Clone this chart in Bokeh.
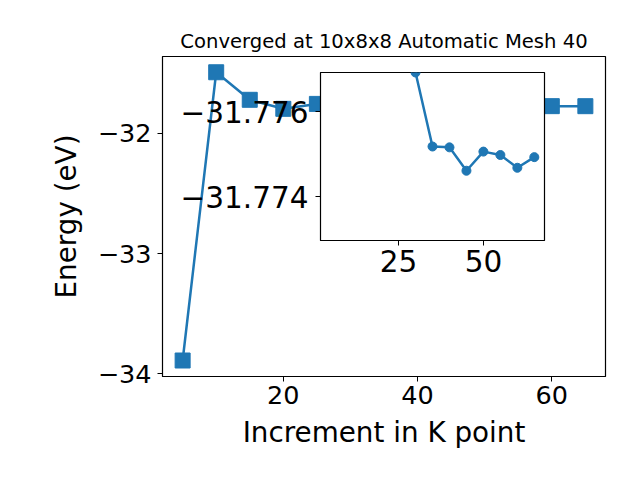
from bokeh.plotting import figure
from bokeh.models import Range1d, FixedTicker, CustomJSTickFormatter
from bokeh.layouts import column
from bokeh.embed import file_html
from bokeh.resources import INLINE

# ---- data ----
kpoints = [5, 10, 15, 20, 25, 30, 35, 40, 45, 50, 55, 60, 65]
energies = [-33.889, -31.493, -31.722, -31.797, -31.756, -31.77692, -31.77518,
            -31.77516, -31.77461, -31.77506, -31.77498, -31.77468, -31.77493]
inset_start = 5  # inset shows the converged tail, K = 30 ... 65
main_xticks = [20, 40, 60]
main_yticks = [-34, -33, -32]
inset_xticks = [25, 50]
inset_yticks = [-31.776, -31.774]
title_text = "Converged at 10x8x8 Automatic Mesh 40"
xlabel = "Increment in K point"
ylabel = "Energy (eV)"

BLUE = "#1f77b4"
FONT = "DejaVu Sans"

# ---- main figure ----
p_main = figure(width=640, height=480, output_backend="svg", toolbar_location=None,
                x_range=Range1d(2, 68), y_range=Range1d(-34.022, -31.362),
                min_border_left=162, min_border_right=35, min_border_top=56,
                min_border_bottom=104, title=title_text)
p_main.title.text_font = FONT
p_main.title.text_font_size = "19.6px"
p_main.title.text_font_style = "normal"
p_main.title.text_color = "black"
p_main.title.align = "center"
p_main.title.standoff = 8
p_main.grid.visible = False
p_main.outline_line_color = "black"
p_main.outline_line_width = 1.2
p_main.background_fill_color = "white"
p_main.border_fill_color = "white"

p_main.line(kpoints, energies, line_color=BLUE, line_width=2.5)
p_main.scatter(kpoints, energies, marker="square", size=15, fill_color=BLUE, line_color=BLUE)

p_main.xaxis.ticker = FixedTicker(ticks=main_xticks)
p_main.yaxis.ticker = FixedTicker(ticks=main_yticks)
fmt0 = "return (tick < 0 ? '\u2212' : '') + Math.abs(tick).toFixed(0);"
p_main.xaxis.formatter = CustomJSTickFormatter(code=fmt0)
p_main.yaxis.formatter = CustomJSTickFormatter(code=fmt0)
p_main.xaxis.axis_label = xlabel
p_main.yaxis.axis_label = ylabel
for ax in (p_main.xaxis, p_main.yaxis):
    ax.major_label_text_font = FONT
    ax.major_label_text_font_size = "25.5px"
    ax.major_label_text_color = "black"
    ax.axis_label_text_font = FONT
    ax.axis_label_text_font_size = "27.8px"
    ax.axis_label_text_font_style = "normal"
    ax.axis_label_text_color = "black"
    ax.major_tick_out = 5
    ax.major_tick_in = 0
    ax.minor_tick_out = 0
    ax.minor_tick_in = 0
    ax.major_tick_line_color = "black"
    ax.axis_line_color = "black"
p_main.xaxis.major_label_standoff = 4
p_main.yaxis.major_label_standoff = 6
p_main.xaxis.axis_label_standoff = 9
p_main.yaxis.axis_label_standoff = 12

# ---- inset figure (placed over the main one) ----
# The column aligns the inset's side borders with the main figure's (162 / 35),
# so the inset is sized to give a 224px-wide frame starting at x=320.
p_in = figure(width=421, height=215, output_backend="svg", toolbar_location=None,
              x_range=Range1d(2, 68), y_range=Range1d(-31.77297, -31.77692),
              min_border_left=162, min_border_right=35, min_border_top=2,
              min_border_bottom=45,
              styles={"position": "absolute", "left": "158px", "top": "70px",
                      "width": "421px", "height": "215px"})
p_in.grid.visible = False
p_in.outline_line_color = "black"
p_in.outline_line_width = 1.2
p_in.background_fill_color = "white"
p_in.border_fill_color = None

p_in.line(kpoints[inset_start:], energies[inset_start:], line_color=BLUE, line_width=2.5)
p_in.scatter(kpoints[inset_start:], energies[inset_start:], marker="circle", size=9,
             fill_color=BLUE, line_color=BLUE)

p_in.xaxis.ticker = FixedTicker(ticks=inset_xticks)
p_in.yaxis.ticker = FixedTicker(ticks=inset_yticks)
p_in.xaxis.formatter = CustomJSTickFormatter(code=fmt0)
p_in.yaxis.formatter = CustomJSTickFormatter(
    code="return (tick < 0 ? '\u2212' : '') + Math.abs(tick).toFixed(3);")
for ax in (p_in.xaxis, p_in.yaxis):
    ax.major_label_text_font = FONT
    ax.major_label_text_font_size = "29.5px"
    ax.major_label_text_color = "black"
    ax.major_tick_out = 5
    ax.major_tick_in = 0
    ax.minor_tick_out = 0
    ax.minor_tick_in = 0
    ax.major_tick_line_color = "black"
    ax.axis_line_color = "black"
p_in.xaxis.major_label_standoff = 4
p_in.yaxis.major_label_standoff = 7

p = column(p_main, p_in)

open("out.html", "w").write(file_html(p, INLINE))
